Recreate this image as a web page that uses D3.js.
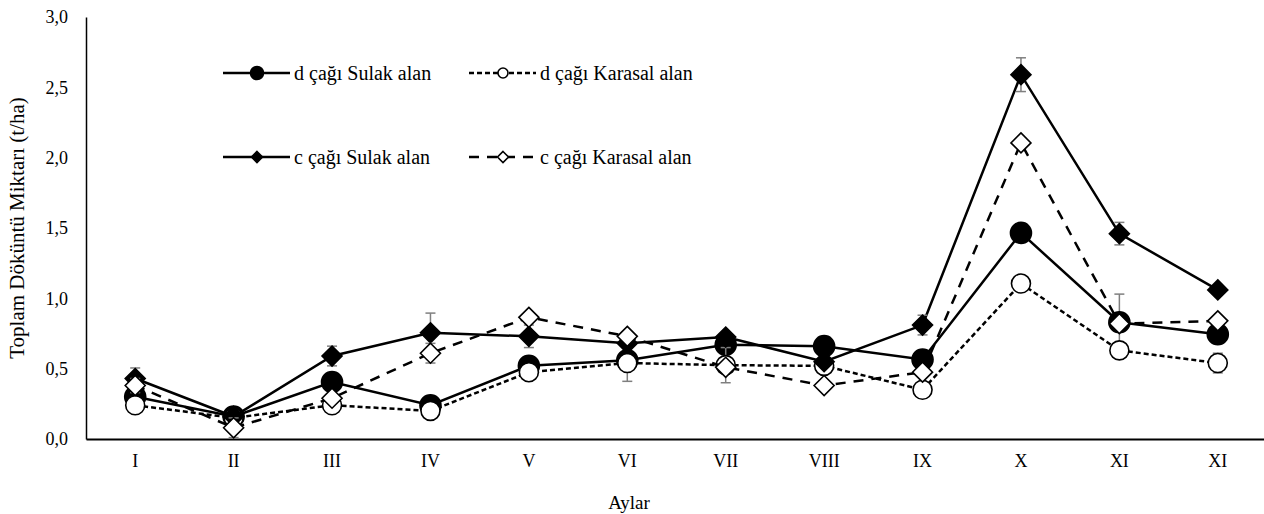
<!DOCTYPE html>
<html>
<head>
<meta charset="utf-8">
<script src="https://cdn.jsdelivr.net/npm/d3@7"></script>
<style>
  body { margin: 0; background: #fff; }
  svg text { font-family: "Liberation Serif", "Times New Roman", "DejaVu Serif", serif !important; fill: #000; }
</style>
</head>
<body>
<div id="chart"></div>
<script>
// months (last label repeats in the original)
var months = ["I", "II", "III", "IV", "V", "VI", "VII", "VIII", "IX", "X", "XI", "XI"];
var yTicks = [0, 0.5, 1.0, 1.5, 2.0, 2.5, 3.0];

var dSulak      = [0.30, 0.16, 0.405, 0.24, 0.52, 0.56, 0.67, 0.66, 0.565, 1.465, 0.83, 0.745];
var dSulakErr   = [0.03, 0.02, 0.03, 0.03, 0.05, 0.15, 0.03, 0.05, 0.03, 0.02, 0.20, 0.03];
var dKarasal    = [0.24, 0.15, 0.24, 0.20, 0.475, 0.54, 0.525, 0.52, 0.35, 1.105, 0.63, 0.54];
var dKarasalErr = [0.055, 0.02, 0.02, 0.04, 0.03, 0.02, 0.125, 0.03, 0.03, 0.02, 0.03, 0.07];
var cSulak      = [0.43, 0.16, 0.59, 0.755, 0.73, 0.68, 0.725, 0.55, 0.81, 2.59, 1.46, 1.06];
var cSulakErr   = [0.075, 0.02, 0.07, 0.14, 0.08, 0.03, 0.03, 0.03, 0.07, 0.12, 0.08, 0.02];
var cKarasal    = [0.38, 0.08, 0.29, 0.61, 0.865, 0.73, 0.51, 0.38, 0.475, 2.105, 0.82, 0.84];
var cKarasalErr = [0.05, 0.07, 0.03, 0.07, 0.02, 0.02, 0.03, 0.02, 0.03, 0.03, 0.03, 0.02];

var series = [
  {name: "d çağı Sulak alan",    values: dSulak,   err: dSulakErr,   dash: null,  marker: "circle",  fill: "#000"},
  {name: "d çağı Karasal alan",  values: dKarasal, err: dKarasalErr, dash: "5,3", marker: "circle",  fill: "#fff"},
  {name: "c çağı Sulak alan",    values: cSulak,   err: cSulakErr,   dash: null,  marker: "diamond", fill: "#000"},
  {name: "c çağı Karasal alan",  values: cKarasal, err: cKarasalErr, dash: "10,8", marker: "diamond", fill: "#fff"}
];

var width = 1264, height = 514;
var margin = {left: 86, right: 0, top: 17, bottom: 75};
var serif = "'Liberation Serif', 'Times New Roman', serif";

var svg = d3.select("#chart").append("svg")
  .attr("width", width)
  .attr("height", height)
  .attr("font-family", serif);

var x = d3.scaleBand()
  .domain(d3.range(months.length))
  .range([margin.left, width + 3]);

var y = d3.scaleLinear()
  .domain([0, 3])
  .range([height - margin.bottom, margin.top]);

var cx = function(i) { return x(i) + x.bandwidth() / 2; };
var fmt = function(d) { return d.toFixed(1).replace(".", ","); };

// y axis
var yAxis = svg.append("g")
  .attr("transform", "translate(" + margin.left + ",0)")
  .call(d3.axisLeft(y).tickValues(yTicks).tickSize(0).tickPadding(18).tickFormat(fmt))
  .attr("font-family", serif);
yAxis.select(".domain").attr("stroke", "#000").attr("stroke-width", 1.5);
yAxis.selectAll("text").attr("font-size", 18);

// x axis
var xAxis = svg.append("g")
  .attr("transform", "translate(0," + y(0) + ")")
  .call(d3.axisBottom(x).tickSize(0).tickPadding(15).tickFormat(function(i) { return months[i]; }))
  .attr("font-family", serif);
xAxis.select(".domain").attr("stroke", "#000").attr("stroke-width", 2);
xAxis.selectAll("text").attr("font-size", 18);

svg.append("text")
  .attr("transform", "translate(24," + ((margin.top + y(0)) / 2) + ") rotate(-90)")
  .attr("text-anchor", "middle")
  .attr("font-size", 21)
  .text("Toplam Döküntü Miktarı (t/ha)");

svg.append("text")
  .attr("x", 629)
  .attr("y", 509)
  .attr("text-anchor", "middle")
  .attr("font-size", 19)
  .text("Aylar");

var line = d3.line()
  .x(function(d, i) { return cx(i); })
  .y(function(d) { return y(d); });

function drawMarker(g, type, fill, px, py, r) {
  if (type === "circle") {
    g.append("circle")
      .attr("cx", px).attr("cy", py).attr("r", r)
      .attr("fill", fill).attr("stroke", "#000").attr("stroke-width", 1.6);
  } else {
    g.append("path")
      .attr("d", "M" + px + "," + (py - r) + "L" + (px + r) + "," + py + "L" + px + "," + (py + r) + "L" + (px - r) + "," + py + "Z")
      .attr("fill", fill).attr("stroke", "#000").attr("stroke-width", 1.6);
  }
}

series.forEach(function(s) {
  var g = svg.append("g");
  g.append("path")
    .datum(s.values)
    .attr("d", line)
    .attr("fill", "none")
    .attr("stroke", "#000")
    .attr("stroke-width", 2.5)
    .attr("stroke-dasharray", s.dash);

  // error bars
  s.values.forEach(function(v, i) {
    var e = s.err[i];
    var px = cx(i);
    g.append("line")
      .attr("x1", px).attr("x2", px)
      .attr("y1", y(v - e)).attr("y2", y(v + e))
      .attr("stroke", "#7f7f7f").attr("stroke-width", 1.5);
    [v - e, v + e].forEach(function(w) {
      g.append("line")
        .attr("x1", px - 5).attr("x2", px + 5)
        .attr("y1", y(w)).attr("y2", y(w))
        .attr("stroke", "#7f7f7f").attr("stroke-width", 1.5);
    });
  });

  s.values.forEach(function(v, i) {
    var r = s.marker === "circle" ? (s.fill === "#000" ? 10.5 : 9.5) : 10;
    drawMarker(g, s.marker, s.fill, cx(i), y(v), r);
  });
});

// legend
var legendPos = [
  {x: 223, y: 73}, {x: 469, y: 73},
  {x: 223, y: 157}, {x: 469, y: 157}
];
series.forEach(function(s, i) {
  var p = legendPos[i];
  var g = svg.append("g");
  g.append("line")
    .attr("x1", p.x).attr("x2", p.x + 67)
    .attr("y1", p.y).attr("y2", p.y)
    .attr("stroke", "#000").attr("stroke-width", 2.5)
    .attr("stroke-dasharray", s.dash);
  var r = s.marker === "circle" ? (s.fill === "#000" ? 6.5 : 5) : 5.5;
  drawMarker(g, s.marker, s.fill, p.x + 34, p.y, r);
  g.append("text")
    .attr("x", p.x + 71)
    .attr("y", p.y)
    .attr("dy", "0.35em")
    .attr("font-size", 20)
    .text(s.name);
});
</script>
</body>
</html>
